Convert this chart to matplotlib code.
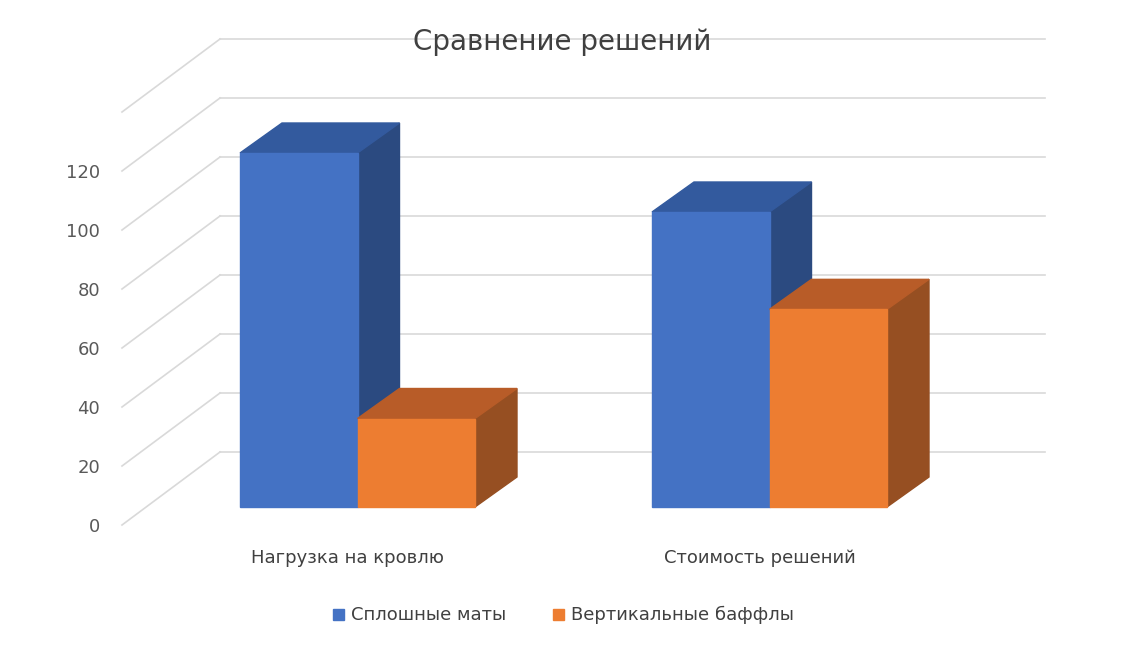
import matplotlib
matplotlib.use("Agg")
import matplotlib.pyplot as plt
from matplotlib.patches import Polygon, Rectangle

title = "Сравнение решений"
categories = ["Нагрузка на кровлю", "Стоимость решений"]
series_names = ["Сплошные маты", "Вертикальные баффлы"]
solid = [120, 100]
baffles = [30, 67]
ticks = [0, 20, 40, 60, 80, 100, 120]

fig = plt.figure(figsize=(11.24, 6.46), dpi=100)
ax = fig.add_axes([0, 0, 1, 1])
ax.set_xlim(0, 1124); ax.set_ylim(646, 0); ax.axis("off")

k = 2.95
def Y(v, base): return base - k * v

grid = "#d9d9d9"
for t in ticks + [140]:
    yb = Y(t, 452)
    ax.plot([220, 1045], [yb, yb], color=grid, lw=1.2, zorder=1)
    ax.plot([122, 220], [Y(t, 525), yb], color=grid, lw=1.2, zorder=1)
for t in ticks:
    ax.text(100, Y(t, 527), str(t), ha="right", va="center", fontsize=13, color="#595959")

dx, dy = 42, -30
styles = [("#4472C4", "#335A9E", "#2B4A80"), ("#ED7D31", "#B85C28", "#964F22")]
def bar(x0, w, v, st):
    yb, yt = 507, Y(v, 507)
    front, top, side = st
    ax.add_patch(Polygon([(x0 + w, yb), (x0 + w + dx, yb + dy), (x0 + w + dx, yt + dy), (x0 + w, yt)], color=side, zorder=3))
    ax.add_patch(Polygon([(x0, yt), (x0 + dx, yt + dy), (x0 + w + dx, yt + dy), (x0 + w, yt)], color=top, zorder=3))
    ax.add_patch(Rectangle((x0, yt), w, yb - yt, color=front, zorder=3))

starts = [240, 652]
w = 117.5
for i, x0 in enumerate(starts):
    bar(x0, w, solid[i], styles[0])
    bar(x0 + w, w, baffles[i], styles[1])
    ax.text(x0 + w - 10, 558, categories[i], ha="center", va="center", fontsize=13, color="#404040")

ax.text(562, 42, title, ha="center", va="center", fontsize=20, color="#404040")
for x, name, st in [(333, series_names[0], styles[0]), (553, series_names[1], styles[1])]:
    ax.add_patch(Rectangle((x, 609), 11, 11, color=st[0]))
    ax.text(x + 18, 615, name, ha="left", va="center", fontsize=13, color="#404040")

fig.savefig("out.png", dpi=100)
